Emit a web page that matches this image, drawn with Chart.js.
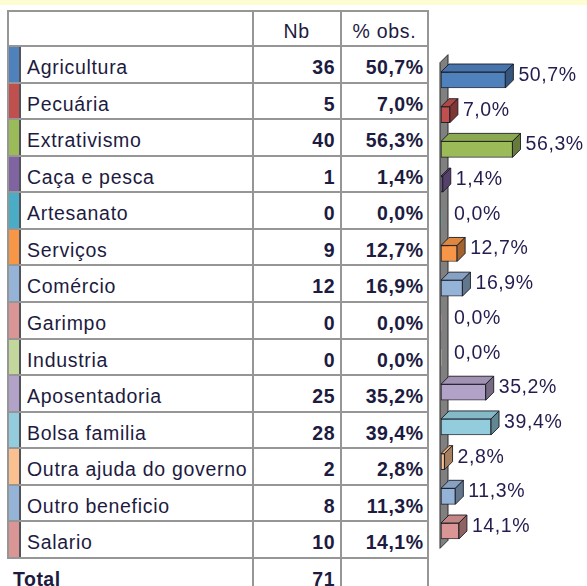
<!DOCTYPE html>
<html>
<head>
<meta charset="utf-8">
<script src="https://cdn.jsdelivr.net/npm/chart.js@4/dist/chart.umd.min.js"></script>
<style>
  html, body { margin: 0; padding: 0; background: #fff; }
  #wrap { position: relative; width: 587px; height: 586px; overflow: hidden;
          font-family: "Liberation Sans", Arial, sans-serif; color: #1d1b3f; }
  .band { position: absolute; left: 0; top: 0; width: 587px; height: 5px; background: #fefdd2; }
  .hl, .vl { position: absolute; background: #969696; }
  .cell { position: absolute; font-size: 19.5px; letter-spacing: 0.7px; white-space: nowrap;
          box-sizing: border-box; padding-top: 3px; }
  .num { text-align: right; font-weight: bold; letter-spacing: 0.5px; }
  .strip { position: absolute; }
  #chartBox { position: absolute; left: 420px; top: 40px; width: 167px; height: 530px; }
</style>
</head>
<body>
<div id="wrap">
  <div class="band"></div>
  <div id="table"></div>
  <div id="chartBox"><canvas id="c" width="167" height="530"></canvas></div>
</div>
<script>
// Table content
const categories = ['Agricultura', 'Pecuária', 'Extrativismo', 'Caça e pesca', 'Artesanato',
  'Serviços', 'Comércio', 'Garimpo', 'Industria', 'Aposentadoria', 'Bolsa familia',
  'Outra ajuda do governo', 'Outro beneficio', 'Salario'];
const counts = [36, 5, 40, 1, 0, 9, 12, 0, 0, 25, 28, 2, 8, 10];
const percentObs = [50.7, 7.0, 56.3, 1.4, 0.0, 12.7, 16.9, 0.0, 0.0, 35.2, 39.4, 2.8, 11.3, 14.1];
const headers = ['Nb', '% obs.'];
const totalLabel = 'Total';
const totalCount = 71;
const colors = ['#4f81bd', '#c0504d', '#9bbb59', '#8064a2', '#4bacc6', '#f79646',
  '#95b3d7', '#d99694', '#c3d69b', '#b3a2c7', '#93cddd', '#fac090', '#95b3d7', '#d99694'];

const fmtPct = v => v.toFixed(1).replace('.', ',') + '%';

// ---- table layout ----
const T = document.getElementById('table');
const colX = [8, 252.5, 341, 428];
const headTop = 11, headBottom = 46, rowH = 36.57;
const bodyBottom = headBottom + categories.length * rowH;

function add(cls, css, text) {
  const d = document.createElement('div');
  d.className = cls;
  Object.assign(d.style, css);
  if (text !== undefined) d.textContent = text;
  T.appendChild(d);
  return d;
}
function hline(y, x0, x1) { add('hl', { left: x0 - 1 + 'px', top: y - 1 + 'px', width: (x1 - x0 + 2) + 'px', height: '2px' }); }
function vline(x, y0, y1) { add('vl', { left: x - 1 + 'px', top: y0 - 1 + 'px', width: '2px', height: (y1 - y0 + 2) + 'px' }); }

// header
add('cell', { left: colX[1] + 'px', width: (colX[2] - colX[1]) + 'px', top: headTop + 'px',
  height: (headBottom - headTop) + 'px', lineHeight: (headBottom - headTop) + 'px', textAlign: 'center' }, headers[0]);
add('cell', { left: colX[2] + 'px', width: (colX[3] - colX[2]) + 'px', top: headTop + 'px',
  height: (headBottom - headTop) + 'px', lineHeight: (headBottom - headTop) + 'px', textAlign: 'center' }, headers[1]);

// body rows
categories.forEach((name, i) => {
  const top = headBottom + i * rowH;
  add('strip', { left: '9px', top: (top + 1) + 'px', width: '10px', height: (rowH - 2) + 'px', background: colors[i] });
  add('strip', { left: '19px', top: (top + 1) + 'px', width: '2px', height: (rowH - 2) + 'px', background: 'rgba(40,40,50,0.8)' });
  const common = { top: top + 'px', height: rowH + 'px', lineHeight: rowH + 'px' };
  add('cell', Object.assign({ left: '27px' }, common), name);
  add('cell num', Object.assign({ left: colX[1] + 'px', width: (335 - colX[1]) + 'px' }, common), String(counts[i]));
  add('cell num', Object.assign({ left: colX[2] + 'px', width: (423.5 - colX[2]) + 'px' }, common), fmtPct(percentObs[i]));
});

// total row
const tTop = bodyBottom;
add('cell num', { left: '13px', top: tTop + 'px', height: rowH + 'px', lineHeight: rowH + 'px', textAlign: 'left' }, totalLabel);
add('cell num', { left: colX[1] + 'px', width: (335 - colX[1]) + 'px', top: tTop + 'px', height: rowH + 'px', lineHeight: rowH + 'px' }, String(totalCount));

// grid lines
hline(headTop, colX[0], colX[3]);
hline(headBottom, colX[0], colX[3]);
for (let i = 1; i <= categories.length; i++) hline(headBottom + i * rowH, colX[0], colX[3]);
vline(colX[0], headTop, bodyBottom);
vline(colX[1], headTop, 590);
vline(colX[2], headTop, 590);
vline(colX[3], headTop, 590);

// ---- 3D bar chart ----
const DEPTH = 8;

function shade(hex, f) {
  const n = parseInt(hex.slice(1), 16);
  const r = Math.round(((n >> 16) & 255) * f), g = Math.round(((n >> 8) & 255) * f), b = Math.round((n & 255) * f);
  return `rgb(${r},${g},${b})`;
}

const wallAndFaces = {
  id: 'wallAndFaces',
  beforeDatasetsDraw(chart) {
    const { ctx, chartArea: a } = chart;
    const x0 = chart.scales.x.getPixelForValue(0) - 1;
    ctx.save();
    ctx.beginPath();
    ctx.moveTo(x0, a.top);
    ctx.lineTo(x0 + DEPTH, a.top - DEPTH);
    ctx.lineTo(x0 + DEPTH, a.bottom - DEPTH);
    ctx.lineTo(x0, a.bottom);
    ctx.closePath();
    ctx.fillStyle = '#808080';
    ctx.fill();
    ctx.strokeStyle = '#2a2a2a';
    ctx.lineWidth = 1;
    ctx.stroke();
    ctx.restore();
  },
  afterDatasetsDraw(chart) {
    const { ctx } = chart;
    const meta = chart.getDatasetMeta(0);
    const ds = chart.data.datasets[0];
    ctx.save();
    ctx.lineWidth = 1;
    ctx.strokeStyle = 'rgba(20,20,30,0.85)';
    meta.data.forEach((el, i) => {
      const v = ds.data[i];
      const { x, y, base, height } = el.getProps(['x', 'y', 'base', 'height'], true);
      const top = y - height / 2, bot = y + height / 2;
      if (v > 0) {
        // top face
        ctx.beginPath();
        ctx.moveTo(base, top);
        ctx.lineTo(base + DEPTH, top - DEPTH);
        ctx.lineTo(x + DEPTH, top - DEPTH);
        ctx.lineTo(x, top);
        ctx.closePath();
        ctx.fillStyle = shade(colors[i], 0.9);
        ctx.fill();
        ctx.stroke();
        // side face
        ctx.beginPath();
        ctx.moveTo(x, top);
        ctx.lineTo(x + DEPTH, top - DEPTH);
        ctx.lineTo(x + DEPTH, bot - DEPTH);
        ctx.lineTo(x, bot);
        ctx.closePath();
        ctx.fillStyle = shade(colors[i], 0.66);
        ctx.fill();
        ctx.stroke();
      }
      // value label
      ctx.fillStyle = '#231d4f';
      ctx.font = '19.5px "Liberation Sans", Arial, sans-serif';
      if ('letterSpacing' in ctx) ctx.letterSpacing = '0.6px';
      ctx.textAlign = 'left';
      ctx.textBaseline = 'alphabetic';
      ctx.fillText(fmtPct(v), x + DEPTH + 5, y + 1);
    });
    ctx.restore();
  }
};

new Chart(document.getElementById('c'), {
  type: 'bar',
  data: {
    labels: categories,
    datasets: [{
      data: percentObs,
      backgroundColor: colors,
      borderColor: 'rgba(20,20,30,0.85)',
      borderWidth: ctx => (percentObs[ctx.dataIndex] > 0 ? 1 : 0),
      borderSkipped: false,
      barThickness: 16
    }]
  },
  options: {
    indexAxis: 'y',
    responsive: false,
    animation: false,
    devicePixelRatio: 1,
    layout: { padding: { left: 21, right: 19, top: 22.65, bottom: 21.65 } },
    scales: {
      x: { display: false, min: 0, max: 100 },
      y: { display: false }
    },
    plugins: { legend: { display: false }, tooltip: { enabled: false } }
  },
  plugins: [wallAndFaces]
});
</script>
</body>
</html>
